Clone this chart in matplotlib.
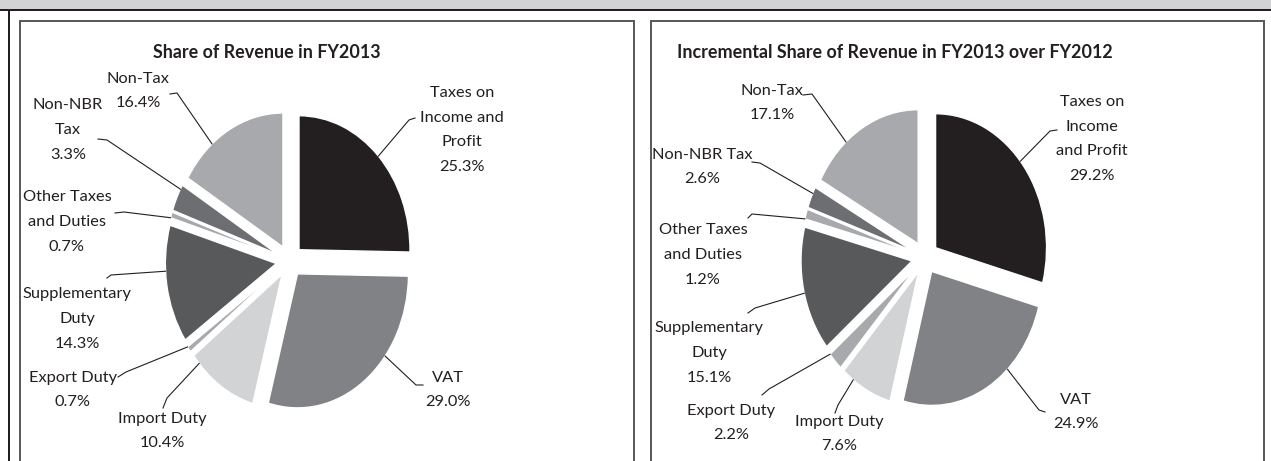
import math
import matplotlib
matplotlib.use("Agg")
import matplotlib.pyplot as plt
from matplotlib.patches import Rectangle

# ---------------- data ----------------
categories = ["Taxes on Income and Profit", "VAT", "Import Duty", "Export Duty",
              "Supplementary Duty", "Other Taxes and Duties", "Non-NBR Tax", "Non-Tax"]
share_fy2013 = [25.3, 29.0, 10.4, 0.7, 14.3, 0.7, 3.3, 16.4]
incremental_share = [29.2, 24.9, 7.6, 2.2, 15.1, 1.2, 2.6, 17.1]

label_names_1 = ["Taxes on\nIncome and\nProfit", "VAT", "Import Duty", "Export Duty",
                 "Supplementary\nDuty", "Other Taxes\nand Duties", "Non-NBR\nTax", "Non-Tax"]
label_names_2 = ["Taxes on\nIncome\nand Profit", "VAT", "Import Duty", "Export Duty",
                 "Supplementary\nDuty", "Other Taxes\nand Duties", "Non-NBR Tax", "Non-Tax"]

titles = ["Share of Revenue in FY2013",
          "Incremental Share of Revenue in FY2013 over FY2012"]

colors = ["#231f20", "#808285", "#d1d3d4", "#a7a9ac",
          "#58595b", "#a7a9ac", "#6d6e71", "#a7a9ac"]

# ---------------- layout (pixels) ----------------
W, H = 1271, 461
DPI = 100
RX, RY = 111.0, 134.0          # pie radius in px (horizontal / vertical)
EXPLODE = 0.12
TEXT = "#231f20"
FONT = ["Lato", "DejaVu Sans"]

pie_centers = [(289.5, 261.0), (925.0, 257.5)]
title_pos = [(267, 52), (895, 52)]

label_pos_1 = [(462, 130), (448, 390), (162, 431), (73, 390),
               (77, 319), (67, 222), (68, 130), (138, 91)]
label_pos_2 = [(1092, 139), (1076, 412), (839, 434), (731, 423),
               (709, 353), (703, 255), (702, 167), (772, 103)]

# leader: (anchor near label, elbow)
leader_1 = [((415, 118), (409, 120)), ((423, 385), (416, 385)),
            ((163, 408), (167, 398)), ((118, 377), (126, 372)),
            ((107, 278), (111, 275)), ((115, 213), (124, 212)),
            ((98, 139), (107, 140)), ((170, 94), (177, 93))]
leader_2 = [((1057, 130), (1050, 131)), ((1045, 412), (1039, 410)),
            ((835, 413), (838, 405)), ((762, 395), (769, 389)),
            ((748, 313), (755, 308)), ((748, 218), (752, 214)),
            ((752, 162), (760, 163)), ((803, 95), (812, 94))]

fig = plt.figure(figsize=(W / DPI, H / DPI), dpi=DPI)
fig.patch.set_facecolor("white")

# ---------------- frame ----------------
fr = fig.add_axes([0, 0, 1, 1])
fr.set_xlim(0, W)
fr.set_ylim(H, 0)
fr.axis("off")
fr.add_patch(Rectangle((0, 0), W, 9.5, facecolor="#d1d3d4", edgecolor="none"))
px2pt = 72.0 / DPI
fr.plot([0, W], [10, 10], color="#231f20", lw=2 * px2pt, solid_capstyle="butt")
fr.plot([8.7, 8.7], [10, H], color="#231f20", lw=2 * px2pt, solid_capstyle="butt")
for (x0, x1) in [(20, 634), (651, 1264)]:
    fr.plot([x0, x0, x1, x1], [H + 2, 21.3, 21.3, H + 2], color="#5a5b5d",
            lw=2 * px2pt, solid_joinstyle="miter")


def draw_pie(values, names, center, lab_pos, leaders, title, tpos):
    cx, cy = center
    ax = fig.add_axes([0, 0, 1, 1])
    ax.patch.set_alpha(0)
    wedges, _ = ax.pie(values, colors=colors, startangle=90, counterclock=False,
                       explode=[EXPLODE] * len(values), radius=1.0,
                       wedgeprops=dict(edgecolor="white", linewidth=1.0))
    ax.set_aspect("auto")
    ax.set_xlim((0 - cx) / RX, (W - cx) / RX)
    ax.set_ylim((cy - H) / RY, (cy - 0) / RY)
    ax.axis("off")

    def d(p):
        return ((p[0] - cx) / RX, (cy - p[1]) / RY)

    for w, name, val, lp, (anc, elb) in zip(wedges, names, values, lab_pos, leaders):
        tx, ty = d(lp)
        ax.text(tx, ty, f"{name}\n{val:.1f}%", ha="center", va="center",
                multialignment="center", fontsize=11.8, family=FONT,
                color=TEXT, linespacing=1.98)
        # leader end on the wedge arc, pointing towards elbow
        wcx, wcy = w.center
        ex, ey = d(elb)
        ang = math.degrees(math.atan2(ey - wcy, ex - wcx))
        t1, t2 = w.theta1, w.theta2
        a = (ang - t1) % 360 + t1
        if a > t2:
            a = t2 if (a - t2) < (t1 + 360 - a) else t1
        px = wcx + w.r * math.cos(math.radians(a))
        py = wcy + w.r * math.sin(math.radians(a))
        ax_, ay_ = d(anc)
        ax.plot([ax_, ex, px], [ay_, ey, py], color=TEXT, lw=0.8,
                solid_joinstyle="round")

    fig.text(tpos[0] / W, 1 - tpos[1] / H, title, ha="center", va="center",
             fontsize=12.9, fontweight="bold", family=FONT, color=TEXT)


draw_pie(share_fy2013, label_names_1, pie_centers[0], label_pos_1, leader_1,
         titles[0], title_pos[0])
draw_pie(incremental_share, label_names_2, pie_centers[1], label_pos_2, leader_2,
         titles[1], title_pos[1])

fig.savefig("out.png", dpi=DPI, facecolor="white")
